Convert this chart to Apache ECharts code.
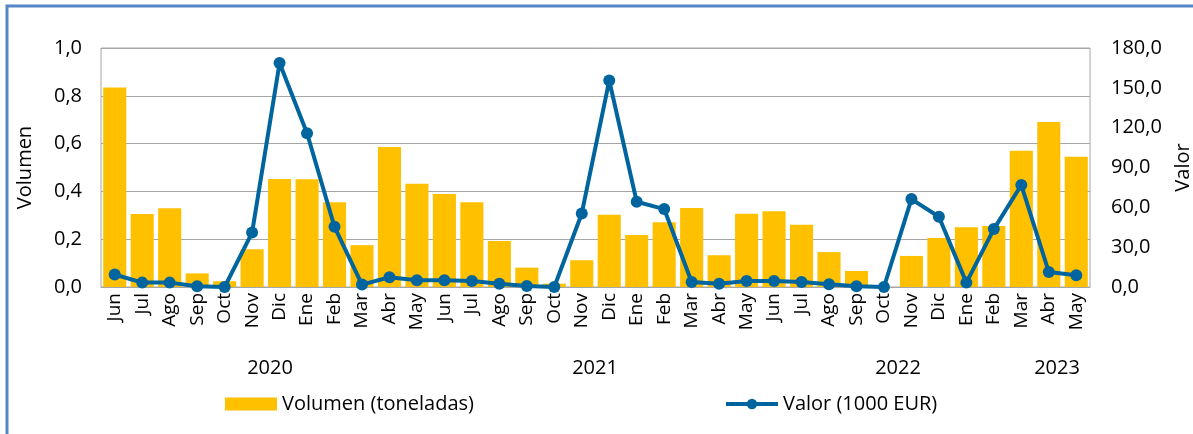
<!DOCTYPE html>
<html>
<head>
<meta charset="utf-8">
<script src="https://cdn.jsdelivr.net/npm/echarts@6/dist/echarts.min.js"></script>
<style>
  html, body { margin: 0; padding: 0; background: #fff; }
  #chart { width: 1193px; height: 434px; }
</style>
</head>
<body>
<div id="chart"></div>
<script>
// meses (jun 2020 - may 2023)
var meses = ['Jun', 'Jul', 'Ago', 'Sep', 'Oct', 'Nov', 'Dic', 'Ene', 'Feb', 'Mar', 'Abr', 'May',
  'Jun', 'Jul', 'Ago', 'Sep', 'Oct', 'Nov', 'Dic', 'Ene', 'Feb', 'Mar', 'Abr', 'May',
  'Jun', 'Jul', 'Ago', 'Sep', 'Oct', 'Nov', 'Dic', 'Ene', 'Feb', 'Mar', 'Abr', 'May']
var anos = ['2020', '2021', '2022', '2023']

// volumen en toneladas
var volumen = [0.835, 0.305, 0.33, 0.057, 0.024, 0.158, 0.452, 0.451, 0.355, 0.175, 0.586, 0.432,
  0.389, 0.355, 0.192, 0.081, 0.014, 0.112, 0.302, 0.218, 0.271, 0.331, 0.133, 0.306,
  0.317, 0.26, 0.146, 0.067, 0, 0.13, 0.205, 0.25, 0.255, 0.57, 0.69, 0.545]

// valor en 1000 EUR
var valor = [9.4, 3.3, 3.3, 0.5, 0, 41, 168.7, 115.8, 45.3, 1.8, 7.3, 5,
  5, 4.5, 2.5, 0.8, 0, 55.4, 155.5, 64.2, 58.7, 3.8, 2.5, 4.5,
  4.5, 3.8, 2, 0.5, 0, 66.2, 52.9, 3.3, 43.6, 76.8, 11.3, 8.8]

var fuente = 'Open Sans'
var myChart = echarts.init(document.getElementById('chart'))

var anoX = [270, 595, 898, 1057]

var option = {
  animation: false,
  textStyle: { fontFamily: fuente, color: '#000' },
  grid: {
    left: 101, right: 103, top: 48, bottom: 147,
    outerBoundsMode: 'none',
    show: true, borderColor: '#A6A6A6', borderWidth: 1
  },
  legend: {
    left: 220, top: 389,
    itemWidth: 52, itemHeight: 13, itemGap: 250,
    textStyle: { fontFamily: fuente, fontSize: 20, color: '#000' },
    data: [
      { name: 'Volumen (toneladas)', icon: 'rect' },
      { name: 'Valor (1000 EUR)', lineStyle: { width: 4 } }
    ]
  },
  xAxis: {
    type: 'category',
    data: meses,
    axisLine: { lineStyle: { color: '#A6A6A6' } },
    axisTick: { show: false },
    axisLabel: { rotate: 90, interval: 0, fontSize: 19, color: '#000', margin: 6, fontFamily: fuente }
  },
  yAxis: [{
    type: 'value', min: 0, max: 1, interval: 0.2,
    name: 'Volumen', nameLocation: 'middle', nameGap: 66, nameRotate: 90,
    nameTextStyle: { fontSize: 20, color: '#000', fontFamily: fuente },
    axisLabel: {
      fontSize: 20, color: '#000', margin: 19, fontFamily: fuente,
      formatter: function (v) { return v.toFixed(1).replace('.', ',') }
    },
    splitLine: { lineStyle: { color: '#A6A6A6' } }
  }, {
    type: 'value', min: 0, max: 180, interval: 30,
    name: 'Valor', nameLocation: 'middle', nameGap: 80, nameRotate: 90,
    nameTextStyle: { fontSize: 20, color: '#000', fontFamily: fuente },
    axisLabel: {
      fontSize: 20, color: '#000', margin: 21, fontFamily: fuente,
      formatter: function (v) { return v.toFixed(1).replace('.', ',') }
    },
    splitLine: { show: false }
  }],
  graphic: [{
    type: 'rect',
    shape: { x: 7, y: 6, width: 1400, height: 1000 },
    style: { fill: 'none', stroke: '#5485C4', lineWidth: 3 }
  }].concat(anos.map(function (a, i) {
    return {
      type: 'text', x: anoX[i], y: 368,
      style: { text: a, font: '20px ' + fuente, fill: '#000', textAlign: 'center', textVerticalAlign: 'middle' }
    }
  })),
  series: [{
    name: 'Volumen (toneladas)',
    type: 'bar',
    data: volumen,
    barCategoryGap: '16%',
    itemStyle: { color: '#FFC000' }
  }, {
    name: 'Valor (1000 EUR)',
    type: 'line',
    yAxisIndex: 1,
    data: valor,
    symbol: 'circle',
    symbolSize: 12,
    lineStyle: { color: '#00649F', width: 4 },
    itemStyle: { color: '#00649F' }
  }]
}

myChart.setOption(option)
</script>
</body>
</html>
